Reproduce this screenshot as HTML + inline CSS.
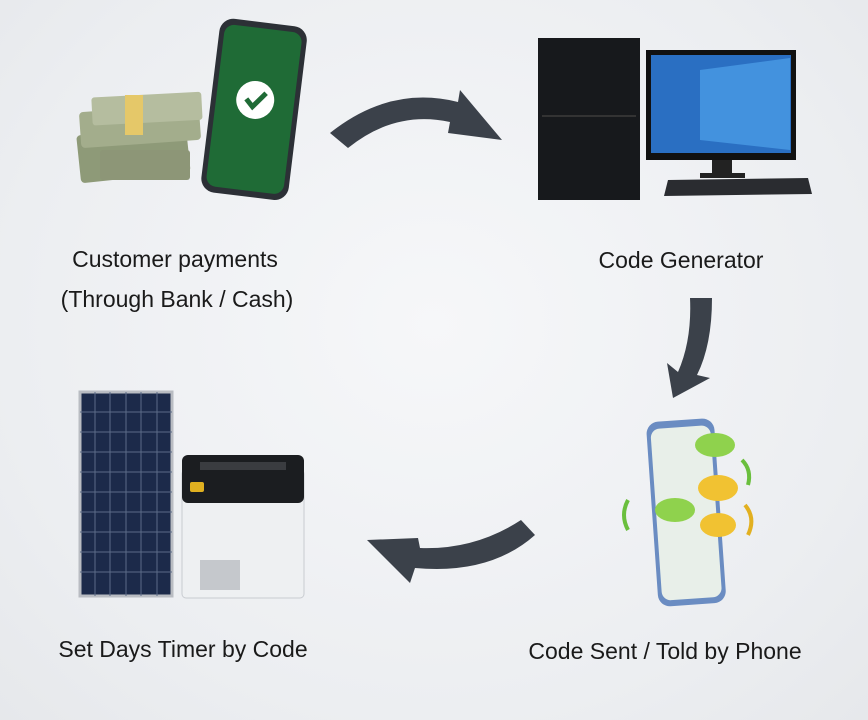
<!DOCTYPE html>
<html><head><style>
html,body{margin:0;padding:0;}
body{width:868px;height:720px;overflow:hidden;background:radial-gradient(ellipse at 50% 45%,#f6f7f9 0%,#eceef1 70%,#e6e8eb 100%);font-family:"Liberation Sans",sans-serif;}
.t{position:absolute;font-size:23px;color:#1a1a1a;white-space:nowrap;transform:translateX(-50%);}
</style></head><body>
<svg width="868" height="720" style="position:absolute;left:0;top:0">
<!-- arrows -->
<path d="M330,133 Q390,85 458,102 L460,90 L502,140 L448,133 L450,122 Q395,110 348,148 Z" fill="#3b414a"/>
<path d="M690,298 L712,298 Q712,345 697,375 L710,378 L673,398 L667,363 L678,372 Q692,340 690,298 Z" fill="#3b414a"/>
<path d="M521,520 Q475,550 420,548 L418,538 L367,540 L410,583 L415,568 Q490,575 535,535 Z" fill="#3b414a"/>
<!-- money -->
<g>
<rect x="78" y="130" width="110" height="48" rx="4" fill="#8e9a78" transform="rotate(-6 130 150)"/>
<rect x="80" y="108" width="120" height="36" rx="4" fill="#a3ad8c" transform="rotate(-4 140 126)"/>
<rect x="92" y="95" width="110" height="28" rx="3" fill="#b5bd9f" transform="rotate(-3 140 110)"/>
<rect x="125" y="95" width="18" height="40" fill="#e5c869"/>
<rect x="100" y="150" width="90" height="30" rx="3" fill="#8d9677"/>
</g>
<!-- phone -->
<g transform="rotate(7 255 110)">
<rect x="210" y="22" width="88" height="175" rx="14" fill="#2c3036"/>
<rect x="215" y="28" width="78" height="163" rx="10" fill="#1f6b36"/>
<circle cx="254" cy="100" r="19" fill="#fff"/>
<path d="M245,100 L252,107 L264,92" stroke="#1f6b36" stroke-width="5" fill="none"/>
</g>
<!-- computer -->
<rect x="538" y="38" width="102" height="162" fill="#17191c"/>
<rect x="542" y="115" width="94" height="2" fill="#333"/>
<rect x="646" y="50" width="150" height="110" fill="#111"/>
<rect x="651" y="55" width="140" height="98" fill="#2a6fc2"/>
<path d="M700,70 L790,58 L790,150 L700,140 Z" fill="#4fa1ea" opacity=".7"/>
<rect x="712" y="160" width="20" height="15" fill="#222"/>
<rect x="700" y="173" width="45" height="5" fill="#222"/>
<path d="M668,180 L808,178 L812,194 L664,196 Z" fill="#2a2c30"/>
<!-- phone 2 -->
<g transform="rotate(-4 685 510)">
<rect x="652" y="420" width="68" height="185" rx="12" fill="#6a8cc2"/>
<rect x="656" y="427" width="60" height="172" rx="9" fill="#e8efe9"/>
</g>
<ellipse cx="715" cy="445" rx="20" ry="12" fill="#8fd24d"/>
<ellipse cx="718" cy="488" rx="20" ry="13" fill="#f1c232"/>
<ellipse cx="675" cy="510" rx="20" ry="12" fill="#8fd24d"/>
<ellipse cx="718" cy="525" rx="18" ry="12" fill="#f1c232"/>
<path d="M628,500 Q620,515 628,530" stroke="#6abf3d" stroke-width="4" fill="none"/>
<path d="M742,460 Q752,470 748,485" stroke="#6abf3d" stroke-width="4" fill="none"/>
<path d="M745,505 Q756,518 748,535" stroke="#e2b020" stroke-width="4" fill="none"/>
<!-- solar -->
<rect x="80" y="392" width="92" height="204" fill="#1c2a4a" stroke="#b9bcc2" stroke-width="3"/>
<g stroke="#5c6b88" stroke-width="1">
<line x1="95" y1="392" x2="95" y2="596"/><line x1="110" y1="392" x2="110" y2="596"/><line x1="126" y1="392" x2="126" y2="596"/><line x1="141" y1="392" x2="141" y2="596"/><line x1="157" y1="392" x2="157" y2="596"/>
<line x1="80" y1="412" x2="172" y2="412"/><line x1="80" y1="432" x2="172" y2="432"/><line x1="80" y1="452" x2="172" y2="452"/><line x1="80" y1="472" x2="172" y2="472"/><line x1="80" y1="492" x2="172" y2="492"/><line x1="80" y1="512" x2="172" y2="512"/><line x1="80" y1="532" x2="172" y2="532"/><line x1="80" y1="552" x2="172" y2="552"/><line x1="80" y1="572" x2="172" y2="572"/>
</g>
<!-- battery -->
<rect x="182" y="470" width="122" height="128" rx="4" fill="#eef0f2" stroke="#c8cbd0"/>
<rect x="182" y="455" width="122" height="48" rx="6" fill="#1b1d20"/>
<rect x="200" y="462" width="86" height="8" fill="#3a3c40"/>
<rect x="190" y="482" width="14" height="10" rx="2" fill="#e0b020"/>
<rect x="200" y="560" width="40" height="30" fill="#c5c8cc"/>
</svg>
<div class="t" style="left:175px;top:246px">Customer payments</div>
<div class="t" style="left:177px;top:286px">(Through Bank / Cash)</div>
<div class="t" style="left:681px;top:247px">Code Generator</div>
<div class="t" style="left:665px;top:638px">Code Sent / Told by Phone</div>
<div class="t" style="left:183px;top:636px">Set Days Timer by Code</div>
</body></html>
